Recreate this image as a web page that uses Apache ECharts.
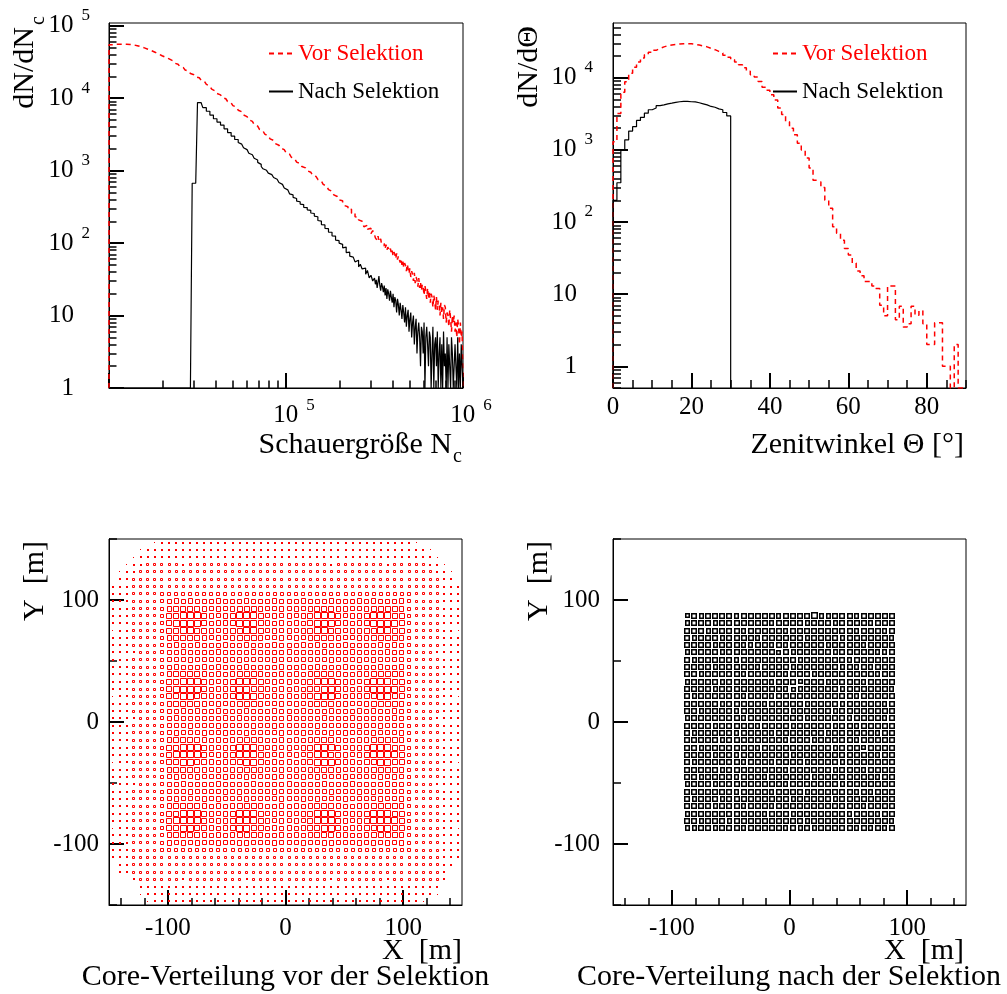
<!DOCTYPE html>
<html><head><meta charset="utf-8">
<script src="https://cdn.jsdelivr.net/npm/echarts@6/dist/echarts.min.js"></script>
<style>html,body{margin:0;padding:0;background:#fff}#c{width:1007px;height:994px}</style>
</head><body><div id="c"></div>
<script>
// ================= DATA =================
// Panel 1: shower size histogram. Main part: bins of 0.01 in log10(Nc) from 4.0 to 5.5,
// tail: bins of 0.005 in log10(Nc) from 5.5 to 6.0
const NC_LOG_START = 4;
const NC_LOG_STEP = 0.01;
const NC_TAIL_START = 5.5;
const NC_TAIL_STEP = 0.005;
const ncVor = [
 54600,54800,55100,55300,55500,55600,55600,55600,55500,55500,
 55400,55200,54900,54300,53700,53000,52100,51300,50400,49400,
 48400,47400,46300,45300,44200,43100,41900,40700,39600,38500,
 37600,36600,35700,34800,33900,32800,31600,30500,29400,28400,
 27400,26400,25500,24500,23600,22600,21900,21100,20400,19700,
 19100,18400,17800,17000,16200,15500,14700,14000,13300,12600,
 12100,11600,11100,10700,10200,9820,9400,9000,8610,8240,
 7890,7520,7160,6820,6490,6170,5860,5570,5300,5040,
 4790,4550,4330,4110,3910,3720,3530,3360,3190,3030,
 2880,2740,2610,2480,2360,2240,2140,2040,1950,1860,
 1780,1690,1610,1530,1450,1380,1310,1250,1200,1140,
 1090,1040,995,951,908,867,828,791,755,718,
 682,646,611,578,547,518,490,463,439,415,
 393,385,355,330,318,290,292,258,262,230,
 228,209,200,206,168,176,155,160,135,149
];
const ncVorTail = [
 131,118,122,109,125,104,103,114,96,101,
 92,99,84,95,80,88,91,77,84,72,
 79,66,75,70,61,72,59,66,63,54,
 61,50,57,46,53,49,41,51,44,38,
 45,34,41,37,30,39,28,34,31,25,
 33,24,29,22,27,25,19,26,21,17,
 24,17,22,15,20,18,13,19,16,12,
 18,12,16,14,10,15,11,13,9,14,
 13,8,11,10,7,12,9,6,10,8,
 10,6,8,5,9,7,4,8,5,6
];
const ncNach = [
 0,0,0,0,0,0,0,0,0,0,
 0,0,0,0,0,0,0,0,0,0,
 0,0,0,0,0,0,0,0,0,0,
 0,0,0,0,0,0,0,0,0,0,
 0,0,0,0,0,0,0,670,670,670,
 8700,8700,8700,7400,7400,6600,6600,5850,5850,5200,
 5200,4680,4680,4250,4250,3780,3780,3350,3350,3000,
 3000,2690,2690,2450,2320,2190,2070,1950,1840,1740,
 1660,1570,1480,1400,1300,1220,1140,1060,1010,977,
 923,881,851,804,759,724,684,646,610,575,
 543,520,478,462,428,412,380,372,345,340,
 312,309,288,283,260,256,236,231,205,201,
 180,178,160,158,142,141,126,125,110,108,
 100,96,86,88,74,75,66,64,61,55,
 58,47,51,44,45,37,42,33,36,30
];
const ncNachTail = [
 33,27,31,24,29,35,26,22,28,25,
 21,26,19,24,17,23,20,16,22,18,
 15,20,13,18,16,11,17,14,10,15,
 12,9,14,11,8,13,7,10,12,6,
 9,11,5,8,10,4,7,9,3,6,
 8,5,2,7,6,3,8,1,5,7,
 4,2,6,5,1,3,7,0,4,5,
 2,6,0,3,5,1,4,0,6,2,
 3,0,5,1,4,2,0,5,3,1,
 0,4,2,1,5,0,3,1,4,2
];

// Panel 2: zenith angle histogram, 1 degree bins from 0
const THETA_START = 0;
const THETA_STEP = 1;
const thetaVor = [
 1300,3200,6300,8800,11500,14000,16500,18800,20800,22500,
 24000,25500,26800,27800,28500,29000,29400,29600,29600,29500,
 29000,28400,27600,26800,25600,24500,23200,22000,20500,19200,
 17800,16500,15200,13800,12300,11000,10200,8900,7400,6700,
 5800,4900,3800,3100,2460,2000,1620,1240,1000,770,
 560,380,360,300,200,155,86,70,56,43,
 35,27,21,18,15,15,13,12,7,5,
 13,13,4.4,6.8,3.5,3.9,6.8,5.1,5.9,3.9,
 2,2,4,4,1,1,0,2,0,0
];
const thetaNach = [
 200,350,1000,1380,1820,2100,2560,2830,3230,3600,
 3800,4100,4200,4350,4450,4560,4650,4700,4700,4650,
 4620,4500,4350,4200,4000,3900,3700,3600,3300,2960
];

// Panels 3/4: core positions, 6 m bins, box size level 0..9 (rows top -> bottom)
const CORE_BIN = 6;
const coreVorStart = -150;
const coreVorRows = [
 '00000012 222222 222 22222 222222 22222 222 222222 21000000',
 '00001222 222222 222 22222 222222 22222 222 222222 22210000',
 '00012222 222222 222 22222 222222 22222 222 222222 22221000',
 '00122333 332333 333 33233 333333 33323 333 333233 33322100',
 '01223333 333333 333 33333 333333 33333 333 333333 33332210',
 '02233333 333343 333 34333 333333 33343 333 343333 33333220',
 '22233344 444444 444 44444 444444 44444 444 444444 44333222',
 '22233345 555555 555 55555 555555 55555 555 555555 54333222',
 '22233345 676766 676 66766 676667 66676 667 676667 54333222',
 '22233345 788887 676 78887 667676 78887 766 788887 54333222',
 '22233445 889998 767 89998 676767 89998 677 899988 54433222',
 '22233345 899998 677 89998 767676 89998 767 899998 54333222',
 '12233345 889988 767 88998 676767 89988 677 889988 54333221',
 '22233345 788887 676 78887 667676 78887 667 788887 54333222',
 '22233345 676676 667 66766 676667 67666 766 667676 54333222',
 '22223345 667666 676 66676 666766 66766 676 666766 54332222',
 '22233345 666766 667 67666 676666 66676 667 676666 54333222',
 '22233345 676667 676 66766 667667 67666 766 667667 54333222',
 '22233345 788887 676 78887 667676 78887 667 788887 54333222',
 '22233445 889998 767 89998 676767 89998 776 899988 54433222',
 '22233345 899998 677 89988 767676 88998 767 899998 54333222',
 '12233345 889988 767 89998 676767 89998 677 889988 54333221',
 '22233345 788887 676 78887 667676 78887 766 788887 54333222',
 '22233345 667676 676 66766 676667 66676 667 676676 54333222',
 '22223345 676666 667 67666 666766 66766 676 666676 54332222',
 '22233345 666766 676 66676 676666 67666 667 667666 54333222',
 '22233345 676667 667 66766 667667 66676 766 676667 54333222',
 '22233345 788887 676 78887 667676 78887 667 788887 54333222',
 '22233445 889998 767 89998 676767 89998 677 899988 54433222',
 '22233345 899998 677 89998 767676 89988 767 899998 54333222',
 '12233345 889988 767 88998 676767 89998 776 889988 54333221',
 '22233345 788887 676 78887 667676 78887 667 788887 54333222',
 '22233345 676676 667 66766 676667 67666 766 667676 54333222',
 '22223345 667666 676 66676 666766 66766 676 666766 54332222',
 '22233345 666766 667 67666 676666 66676 667 676666 54333222',
 '22233345 676667 676 66766 667667 67666 766 667667 54333222',
 '22233345 788887 676 78887 667676 78887 667 788887 54333222',
 '22233445 889998 767 89998 676767 89998 677 899988 54433222',
 '22233345 899998 677 89998 767676 89998 767 899998 54333222',
 '12233345 889988 767 89988 676767 88998 677 889988 54333221',
 '22233345 788887 676 78887 667676 78887 766 788887 54333222',
 '22233345 767676 676 67766 676667 66776 667 676767 54333222',
 '22233345 555555 555 55555 555555 55555 555 555555 54333222',
 '22233344 444444 444 44444 444444 44444 444 444444 44333222',
 '02233333 333343 333 34333 333333 33343 333 343333 33333220',
 '02233333 333333 333 33333 333333 33333 333 333333 33333200',
 '00023333 332333 333 33233 333333 33323 333 333233 33333200',
 '00002222 222222 222 22222 222222 22222 222 222222 22222000',
 '00001222 222222 222 22222 222222 22222 222 222222 22221000',
 '00000122 222222 222 22222 222222 22222 222 222222 22100000'
];
const coreNachStart = -90;
const coreNachRows = [
 '6878888788 8887888897 7888788888',
 '7888788888 8878888788 8788887888',
 '8887888878 8888788888 8888788878',
 '8788878888 7888888788 8878888887',
 '8888788877 8878788888 7888878888',
 '7888878888 8886878888 8788888778',
 '8788888788 8888887888 8887888888',
 '8888788888 7888878888 8878787888',
 '8878888878 8888788878 8888888788',
 '7888878888 8878886888 7888878888',
 '8888788888 8888767888 8878888887',
 '8788888878 8878888888 8888788888',
 '8888878888 8788888788 8878888878',
 '8878888788 8888878888 8788888888',
 '7888888878 8888888788 8887888878',
 '8888788888 7888878888 8788788888',
 '8788888788 8878888888 7888888788',
 '8888878888 8888788878 8888788888',
 '8878888888 7888888888 8788868888',
 '8888788788 8888878888 8888888788',
 '8788888878 8878888788 8878888888',
 '8888878888 8888788888 8788878888',
 '8878888788 8788888878 8888888788',
 '7888788888 8888788888 8878888888',
 '8888888788 8878888788 8888787888',
 '8788878888 8888878888 8788888888',
 '8888788878 8878888888 8888878888',
 '7888888888 8788878888 8887888788',
 '8878887888 8888888788 8888888887',
 '7788788878 8888787878 8888787878'
];

// Tick values
const tlXMajor = [1e4, 1e5, 1e6];
const tlXMinor = [2e4,3e4,4e4,5e4,6e4,7e4,8e4,9e4,2e5,3e5,4e5,5e5,6e5,7e5,8e5,9e5];
const tlXLabels = [1e5, 1e6];
const tlYMajor = [1, 10, 100, 1e3, 1e4, 1e5];
const tlYMinor = [2,3,4,5,6,7,8,9,20,30,40,50,60,70,80,90,200,300,400,500,600,700,800,900,
  2e3,3e3,4e3,5e3,6e3,7e3,8e3,9e3,2e4,3e4,4e4,5e4,6e4,7e4,8e4,9e4];
const trXMajor = [0, 20, 40, 60, 80];
const trXMinor = [5,10,15,25,30,35,45,50,55,65,70,75,85,90];
const trYMajor = [1, 10, 100, 1e3, 1e4];
const trYMinor = [0.5,0.6,0.7,0.8,0.9,2,3,4,5,6,7,8,9,20,30,40,50,60,70,80,90,200,300,400,500,600,700,800,900,
  2e3,3e3,4e3,5e3,6e3,7e3,8e3,9e3,2e4,3e4,4e4,5e4];
const coreXMajor = [-100, 0, 100];
const coreXMinor = [-140,-120,-80,-60,-40,-20,20,40,60,80,120,140];
const coreYMajor = [-100, 0, 100];
const coreYMinor = [-150, -50, 50, 150];

// ================= BUILD =================
const FONT = 'Liberation Serif';
const RED = '#ff0000';
const TL_Y = [1, 1.09e5];
const TR_Y = [0.5, 5.74e4];

function stepPoints(edges, values, floor) {
  const pts = [[edges[0], floor]];
  values.forEach((v, i) => {
    const y = v > floor ? v : floor;
    pts.push([edges[i], y], [edges[i + 1], y]);
  });
  pts.push([edges[values.length], floor]);
  return pts;
}
const ncEdges = Array.from({length: ncVor.length + 1}, (_, i) => Math.pow(10, NC_LOG_START + NC_LOG_STEP * i))
  .concat(Array.from({length: ncVorTail.length}, (_, j) => Math.pow(10, NC_TAIL_START + NC_TAIL_STEP * (j + 1))));
const thEdges = Array.from({length: thetaVor.length + 1}, (_, i) => THETA_START + THETA_STEP * i);

function coreCells(rows, start) {
  const out = [];
  const clean = rows.map(r => r.replace(/\s/g, ''));
  const n = clean.length;
  clean.forEach((row, r) => {
    if (row.length !== n) console.warn('row length', r, row.length);
    for (let c = 0; c < row.length; c++) {
      const v = +row[c];
      if (v > 0) out.push([start + CORE_BIN * (c + 0.5), start + CORE_BIN * n - CORE_BIN * (r + 0.5), v]);
    }
  });
  return out;
}

function boxRenderer(color, lw) {
  return function (params, api) {
    const c = api.coord([api.value(0), api.value(1)]);
    const s = api.size([CORE_BIN, CORE_BIN]);
    const f = (api.value(2) + 0.55) / 10;
    const w = Math.max(1, Math.min(Math.floor(s[0]), Math.round(s[0] * f)));
    const h = Math.max(1, Math.min(Math.floor(s[1]), Math.round(s[1] * f)));
    const x0 = Math.round(c[0] - w / 2), y0 = Math.round(c[1] - h / 2);
    if (w <= 2) {
      return {type: 'rect', shape: {x: x0, y: y0, width: w, height: h}, style: {fill: color, stroke: null}};
    }
    return {
      type: 'rect',
      shape: {x: x0 + lw / 2, y: y0 + lw / 2, width: w - lw, height: h - lw},
      style: {fill: 'none', stroke: color, lineWidth: lw}
    };
  };
}

const expRich = {
  n: {fontFamily: FONT, fontSize: 25, lineHeight: 37, color: '#000', verticalAlign: 'middle'},
  s: {fontFamily: FONT, fontSize: 17, lineHeight: 17, color: '#000', verticalAlign: 'top', padding: [0, 0, 0, 8]},
  sp: {fontFamily: FONT, fontSize: 17, lineHeight: 17, width: 16}
};
function yLogLabel(v) {
  const e = Math.round(Math.log10(v));
  if (e === 0) return '{n|1}{sp| }';
  if (e === 1) return '{n|10}{sp| }';
  return '{n|10}{s|' + e + '}';
}
function xLogLabel(v) {
  const e = Math.round(Math.log10(v));
  return '{sp| }{n|10}{s|' + e + '}';
}

function mainAxis(gridIndex, type, range, position, majors, labels, formatter, margin, rich) {
  return {
    type, gridIndex, min: range[0], max: range[1], position, logBase: 10,
    axisLine: {show: true, onZero: false, lineStyle: {color: '#000', width: 1}},
    axisTick: {show: true, inside: true, length: 15, customValues: majors, lineStyle: {color: '#000', width: 2}},
    axisLabel: {show: true, customValues: labels, formatter, margin, fontFamily: FONT, fontSize: 25,
      color: '#000', rich: rich || undefined, showMinLabel: true, showMaxLabel: true},
    splitLine: {show: false}, minorTick: {show: false}, silent: true
  };
}
function minorAxis(gridIndex, type, range, position, minors, len) {
  return {
    type, gridIndex, min: range[0], max: range[1], position, logBase: 10,
    axisLine: {show: false, onZero: false},
    axisTick: {show: true, inside: true, length: len, customValues: minors, lineStyle: {color: '#000', width: 1.5}},
    axisLabel: {show: false}, splitLine: {show: false}, minorTick: {show: false}, silent: true
  };
}
const plain = v => String(v);

const grids = [
  {left: 109, top: 23, width: 354, height: 365},
  {left: 613, top: 23, width: 353, height: 365},
  {left: 109, top: 539, width: 353, height: 366},
  {left: 613, top: 539, width: 353, height: 366}
].map(g => Object.assign(g, {show: true, borderColor: '#000', borderWidth: 1, backgroundColor: 'transparent', containLabel: false}));

const xAxis = [
  mainAxis(0, 'log', [1e4, 1e6], 'bottom', tlXMajor, tlXLabels, xLogLabel, 9, expRich),
  minorAxis(0, 'log', [1e4, 1e6], 'bottom', tlXMinor, 7.5),
  mainAxis(1, 'value', [0, 90], 'bottom', trXMajor, trXMajor, plain, 7),
  minorAxis(1, 'value', [0, 90], 'bottom', trXMinor, 8),
  mainAxis(2, 'value', [-150, 150], 'bottom', coreXMajor, coreXMajor, plain, 11),
  minorAxis(2, 'value', [-150, 150], 'bottom', coreXMinor, 7),
  mainAxis(3, 'value', [-150, 150], 'bottom', coreXMajor, coreXMajor, plain, 11),
  minorAxis(3, 'value', [-150, 150], 'bottom', coreXMinor, 7)
];
const yAxis = [
  mainAxis(0, 'log', TL_Y, 'left', tlYMajor, tlYMajor, yLogLabel, 19, expRich),
  minorAxis(0, 'log', TL_Y, 'left', tlYMinor, 7.5),
  mainAxis(1, 'log', TR_Y, 'left', trYMajor, trYMajor, yLogLabel, 20, expRich),
  minorAxis(1, 'log', TR_Y, 'left', trYMinor, 8),
  mainAxis(2, 'value', [-150, 150], 'left', coreYMajor, coreYMajor, plain, 10),
  minorAxis(2, 'value', [-150, 150], 'left', coreYMinor, 8),
  mainAxis(3, 'value', [-150, 150], 'left', coreYMajor, coreYMajor, plain, 13),
  minorAxis(3, 'value', [-150, 150], 'left', coreYMinor, 8)
];

const dash = [5, 4];
const series = [
  {name: 'Vor Selektion', type: 'line', xAxisIndex: 0, yAxisIndex: 0, data: stepPoints(ncEdges, ncVor.concat(ncVorTail), TL_Y[0]),
   symbol: 'none', showSymbol: false, lineStyle: {color: RED, width: 1.5, type: dash}, itemStyle: {color: RED}, clip: true, z: 2},
  {name: 'Nach Selektion', type: 'line', xAxisIndex: 0, yAxisIndex: 0, data: stepPoints(ncEdges, ncNach.concat(ncNachTail), TL_Y[0]),
   symbol: 'none', showSymbol: false, lineStyle: {color: '#000', width: 1.2}, itemStyle: {color: '#000'}, clip: true, z: 3},
  {name: 'Vor Selektion', type: 'line', xAxisIndex: 2, yAxisIndex: 2, data: stepPoints(thEdges, thetaVor, TR_Y[0]),
   symbol: 'none', showSymbol: false, lineStyle: {color: RED, width: 1.5, type: dash}, itemStyle: {color: RED}, clip: true, z: 2},
  {name: 'Nach Selektion', type: 'line', xAxisIndex: 2, yAxisIndex: 2, data: stepPoints(thEdges.slice(0, thetaNach.length + 1), thetaNach, TR_Y[0]),
   symbol: 'none', showSymbol: false, lineStyle: {color: '#000', width: 1.2}, itemStyle: {color: '#000'}, clip: true, z: 3},
  {name: 'Core vor', type: 'custom', xAxisIndex: 4, yAxisIndex: 4, data: coreCells(coreVorRows, coreVorStart),
   renderItem: boxRenderer(RED, 1), encode: {x: 0, y: 1}, clip: true, silent: true},
  {name: 'Core nach', type: 'custom', xAxisIndex: 6, yAxisIndex: 6, data: coreCells(coreNachRows, coreNachStart),
   renderItem: boxRenderer('#000', 1.5), encode: {x: 0, y: 1}, clip: true, silent: true}
];

function legendAt(left) {
  return {
    left, top: 42, padding: 0, orient: 'vertical', itemWidth: 24, itemHeight: 14, itemGap: 15, selectedMode: false,
    itemStyle: {opacity: 0},
    textStyle: {fontFamily: FONT, fontSize: 23, lineHeight: 22, color: '#000'},
    data: [{name: 'Vor Selektion', textStyle: {color: RED}}, {name: 'Nach Selektion', textStyle: {color: '#000'}}]
  };
}

function txt(x, y, text, size, align, rot, color) {
  return {
    type: 'text', x, y, rotation: rot || 0, silent: true,
    style: {text, fill: color || '#000', font: size + 'px "' + FONT + '"', fontSize: size, fontFamily: FONT,
      textAlign: align, align: align, textVerticalAlign: 'middle', verticalAlign: 'middle'}
  };
}
const R90 = Math.PI / 2;
const graphic = [
  txt(25, 27, 'dN/dN', 30, 'right', R90),
  txt(39, 25, 'c', 20, 'left', R90),
  txt(452, 445, 'Schauergröße N', 30, 'right'),
  txt(453, 457, 'c', 20, 'left'),
  txt(529, 26, 'dN/dΘ', 30, 'right', R90),
  txt(964, 445, 'Zenitwinkel Θ [°]', 30, 'right'),
  txt(35, 541, 'Y  [m]', 30, 'right', R90),
  txt(539, 541, 'Y  [m]', 30, 'right', R90),
  txt(462, 951, 'X  [m]', 30, 'right'),
  txt(964, 951, 'X  [m]', 30, 'right'),
  txt(285.5, 977, 'Core-Verteilung vor der Selektion', 30, 'center'),
  txt(789, 977, 'Core-Verteilung nach der Selektion', 30, 'center')
];

const chart = echarts.init(document.getElementById('c'), null, {renderer: 'canvas'});
chart.setOption({
  animation: false,
  backgroundColor: '#fff',
  grid: grids,
  xAxis, yAxis,
  legend: [legendAt(268), legendAt(772)],
  series,
  graphic
});
</script>
</body></html>
